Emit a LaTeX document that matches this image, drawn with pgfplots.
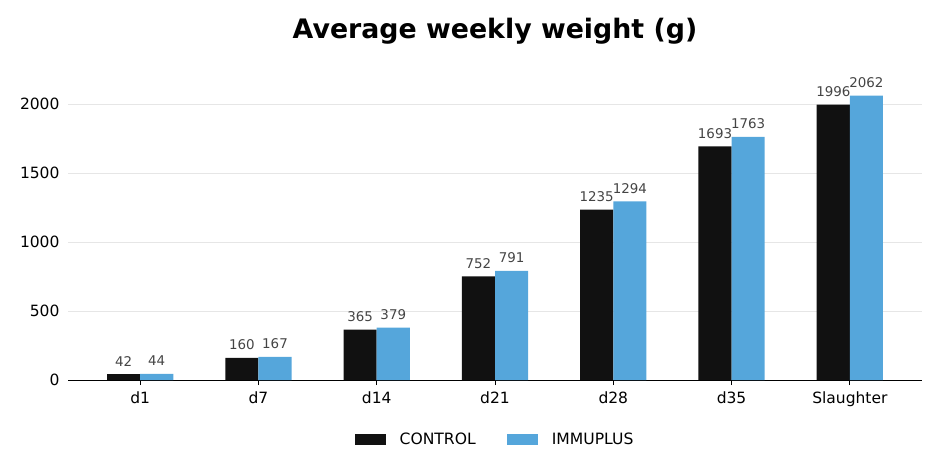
\documentclass[border=0pt]{standalone}
\usepackage{fontspec}
\setmainfont{DejaVu Sans}
\usepackage{pgfplots}
\pgfplotsset{compat=1.18}
\definecolor{ctrl}{HTML}{111111}
\definecolor{immu}{HTML}{55A6DB}
\definecolor{gridc}{HTML}{E6E6E6}
\definecolor{lblc}{HTML}{444444}
\begin{document}
\begin{tikzpicture}
\path[use as bounding box] (0pt,0pt) rectangle (950pt,466pt);
\node[font=\fontsize{26.8}{32}\selectfont\bfseries] at (495pt,435pt) {Average weekly weight (g)};
\begin{axis}[
  at={(68pt,86pt)}, anchor=south west,
  scale only axis, width=854pt, height=310.4pt,
  ybar=0pt, bar width=0.28,
  xmin=-0.61, xmax=6.61, ymin=0, ymax=2250,
  xtick=data,
  xticklabels={d1,d7,d14,d21,d28,d35,Slaughter},
  ytick={0,500,1000,1500,2000},
  /pgf/number format/assume math mode=true,
  /pgf/number format/1000 sep={},
  axis x line*=bottom, axis y line*=left,
  y axis line style={draw=none},
  x axis line style={line width=1pt, -},
  ytick style={draw=none},
  xtick style={line width=0.8pt, black},
  tick align=outside, major tick length=5pt,
  ymajorgrids, grid style={gridc, line width=0.8pt},
  ticklabel style={font=\fontsize{15.5}{18}\selectfont},
  xticklabel style={yshift=-3pt},
  nodes near coords,
  every node near coord/.append style={font=\fontsize{13.4}{16}\selectfont, text=lblc, yshift=4.5pt},
  legend style={at={(axis description cs:0.5,-0.193)}, anchor=center, draw=none,
    legend columns=2, font=\fontsize{15.6}{18}\selectfont,
    /tikz/every even column/.append style={column sep=29pt}},
  legend image code/.code={\fill[#1] (0pt,-5.5pt) rectangle (31pt,5.5pt);},
]
\addplot[fill=ctrl, draw=none] coordinates {(0,42) (1,160) (2,365) (3,752) (4,1235) (5,1693) (6,1996)};
\addplot[fill=immu, draw=none] coordinates {(0,44) (1,167) (2,379) (3,791) (4,1294) (5,1763) (6,2062)};
\legend{\hspace*{12pt}CONTROL, \hspace*{12pt}IMMUPLUS}
\end{axis}
\end{tikzpicture}
\end{document}
